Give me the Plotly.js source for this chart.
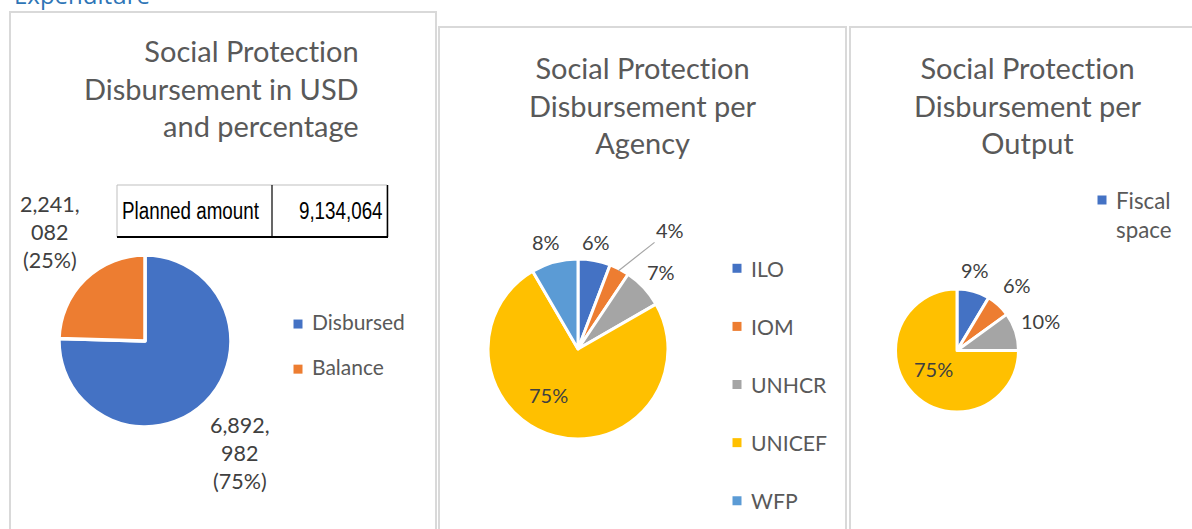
<!DOCTYPE html>
<html><head><meta charset="utf-8">
<script src="https://cdn.plot.ly/plotly-3.0.1.min.js"></script>
<style>
html,body{margin:0;padding:0;background:#fff;overflow:hidden;}
#chart{width:1192px;height:529px;}
svg text{font-variant-ligatures:none !important;font-feature-settings:"liga" 0,"clig" 0 !important;}
.legendpie{ d: path('M10.5,4.5H1.5V-4.5H10.5Z'); stroke-width:0 !important; }
.scrollbar{display:none !important;}
.annotation[data-index="4"] text.annotation-text{transform-box:fill-box;transform-origin:left center;transform:scaleX(0.8);}
.annotation[data-index="5"] text.annotation-text{transform-box:fill-box;transform-origin:right center;transform:scaleX(0.8);}
</style></head><body><div id="chart"></div>
<script>
// ---- data ----
const disbCats = ['Disbursed', 'Balance'];
const disbValues = [6892982, 2241082];
const plannedLabel = 'Planned amount';
const plannedAmount = 9134064;

const agencyCats = ['ILO', 'IOM', 'UNHCR', 'UNICEF', 'WFP'];
const agencyValues = [5.8, 3.6, 7.3, 74.9, 8.4];

const outputCats = ['Fiscal space', 'Output 2', 'Output 3', 'Output 4'];
const outputValues = [8.6, 6.4, 10, 75];

const chartTitles = [
  'Social Protection<br>Disbursement in USD<br>and percentage',
  'Social Protection<br>Disbursement per<br>Agency',
  'Social Protection<br>Disbursement per<br>Output'
];
const headingText = 'Expenditure';

// ---- layout helpers ----
const W = 1192, H = 529;
const px = x => x / W;
const py = y => 1 - y / H;
const FONT = 'Lato, "Open Sans", sans-serif';
const TFONT = '"Liberation Sans", Arial, sans-serif';
const C4 = ['#4472C4', '#ED7D31', '#A5A5A5', '#FFC000', '#5B9BD5'];
const LBL = '#404040';

// pie boxes in pixels [left, top, right, bottom]
const pieBoxes = [[58, 255, 232, 427], [487, 259, 669, 439], [895, 289, 1019, 412]];
const domainOf = b => ({x: [px(b[0]), px(b[2])], y: [py(b[3]), py(b[1])]});
const geomOf = b => ({cx: (b[0] + b[2]) / 2, cy: (b[1] + b[3]) / 2, r: Math.min(b[2] - b[0], b[3] - b[1]) / 2});

// label placement style: radial factor f and angular nudge da (deg) from the slice mid-angle
const place1 = [{f: 1.71, da: 3.9}, {f: 1.68, da: 3.3}];
const place2 = [{f: 1.20, da: -0.9}, {f: 1.67, da: 10.4, leader: true}, {f: 1.26, da: 0.1}, {f: 0.61, da: 17.2}, {f: 1.24, da: -1.4}];
const place3 = [{f: 1.34, da: -3}, {f: 1.45, da: 0}, {f: 1.44, da: -1.4}, {f: 0.49, da: 7.4}];

function midAngles(vals) {
  const tot = vals.reduce((a, b) => a + b, 0);
  let acc = 0;
  return vals.map(v => { const m = (acc + v / 2) / tot * 360; acc += v; return m; });
}
function pcts(vals) {
  const tot = vals.reduce((a, b) => a + b, 0);
  return vals.map(v => Math.round(v / tot * 100) + '%');
}
function polar(g, ang, f) {
  const a = ang * Math.PI / 180;
  return {x: g.cx + f * g.r * Math.sin(a), y: g.cy - f * g.r * Math.cos(a)};
}
function splitNum(v) {
  const s = v.toLocaleString('en-US');
  const i = s.lastIndexOf(',');
  return s.slice(0, i + 1) + '<br>' + s.slice(i + 1);
}

function labelAnns(vals, texts, box, places, size) {
  const g = geomOf(box);
  const mids = midAngles(vals);
  return vals.map((v, i) => {
    const p = places[i];
    const c = polar(g, mids[i] + p.da, p.f);
    const ann = {text: texts[i], xref: 'paper', yref: 'paper', x: px(c.x), y: py(c.y),
      xanchor: 'center', yanchor: 'middle', align: 'center', showarrow: false,
      font: {family: FONT, size: size, color: LBL}};
    if (p.leader) {
      const tip = polar(g, mids[i], 0.98);
      Object.assign(ann, {x: px(tip.x), y: py(tip.y), showarrow: true, arrowhead: 0, arrowwidth: 1.2,
        arrowcolor: '#A6A6A6', ax: c.x - tip.x, ay: c.y - tip.y, standoff: 0});
    }
    return ann;
  });
}

const traces = [
  {
    type: 'pie', sort: false, direction: 'clockwise', rotation: 0, textinfo: 'none',
    labels: disbCats.map(c => '<span style="font-size:21px">' + c + '</span><br>&nbsp;'),
    values: disbValues,
    marker: {colors: C4.slice(0, 2), line: {color: '#ffffff', width: 3.5}},
    domain: domainOf(pieBoxes[0]),
    legend: 'legend', hoverinfo: 'label+value+percent'
  },
  {
    type: 'pie', sort: false, direction: 'clockwise', rotation: 0, textinfo: 'none',
    labels: agencyCats.map(c => c + '<br>&nbsp;'),
    values: agencyValues,
    marker: {colors: C4, line: {color: '#ffffff', width: 3}},
    domain: domainOf(pieBoxes[1]),
    legend: 'legend2'
  },
  {
    type: 'pie', sort: false, direction: 'clockwise', rotation: 0, textinfo: 'none',
    labels: outputCats.map(c => c.replace(' ', '<br>')),
    values: outputValues,
    marker: {colors: C4.slice(0, 4), line: {color: '#ffffff', width: 3}},
    domain: domainOf(pieBoxes[2]),
    legend: 'legend3'
  }
];

const legendBase = {xanchor: 'left', yanchor: 'top', valign: 'top',
  bgcolor: 'rgba(0,0,0,0)', borderwidth: 0, orientation: 'v'};

const shapes = [
  // panel frames
  {type: 'rect', xref: 'paper', yref: 'paper', x0: px(10), x1: px(436), y0: -0.2, y1: py(12),
   line: {color: '#D9D9D9', width: 2}, fillcolor: 'rgba(0,0,0,0)', layer: 'below'},
  {type: 'rect', xref: 'paper', yref: 'paper', x0: px(439), x1: px(846), y0: -0.2, y1: py(27),
   line: {color: '#D9D9D9', width: 2}, fillcolor: 'rgba(0,0,0,0)', layer: 'below'},
  {type: 'rect', xref: 'paper', yref: 'paper', x0: px(850), x1: px(1260), y0: -0.2, y1: py(27),
   line: {color: '#D9D9D9', width: 2}, fillcolor: 'rgba(0,0,0,0)', layer: 'below'},
  // planned amount table
  {type: 'rect', xref: 'paper', yref: 'paper', x0: px(117), x1: px(387), y0: py(237), y1: py(185),
   line: {color: '#BFBFBF', width: 1}, fillcolor: '#ffffff'},
  {type: 'line', xref: 'paper', yref: 'paper', x0: px(117), x1: px(388), y0: py(237), y1: py(237),
   line: {color: '#000000', width: 2}},
  {type: 'line', xref: 'paper', yref: 'paper', x0: px(387.5), x1: px(387.5), y0: py(185), y1: py(237),
   line: {color: '#000000', width: 1.5}},
  {type: 'line', xref: 'paper', yref: 'paper', x0: px(272), x1: px(272), y0: py(185), y1: py(237),
   line: {color: '#000000', width: 1.2}}
];

const annotations = [
  {text: headingText, xref: 'paper', yref: 'paper', x: px(12), y: py(13), xanchor: 'left', yanchor: 'bottom',
   showarrow: false, font: {family: '"Open Sans", sans-serif', size: 24, color: '#2E75B6'}},
  {text: chartTitles[0], xref: 'paper', yref: 'paper', x: px(361), y: py(88), xanchor: 'right', yanchor: 'middle',
   align: 'right', showarrow: false, font: {family: FONT, size: 29, color: '#595959'}},
  {text: chartTitles[1], xref: 'paper', yref: 'paper', x: px(643), y: py(105), xanchor: 'center', yanchor: 'middle',
   align: 'center', showarrow: false, font: {family: FONT, size: 29, color: '#595959'}},
  {text: chartTitles[2], xref: 'paper', yref: 'paper', x: px(1028), y: py(105), xanchor: 'center', yanchor: 'middle',
   align: 'center', showarrow: false, font: {family: FONT, size: 29, color: '#595959'}},
  {text: plannedLabel, xref: 'paper', yref: 'paper', x: px(120), y: py(211), xanchor: 'left', yanchor: 'middle',
   showarrow: false, font: {family: TFONT, size: 23.5, color: '#000000'}},
  {text: plannedAmount.toLocaleString('en-US'), xref: 'paper', yref: 'paper', x: px(385), y: py(211), xanchor: 'right', yanchor: 'middle',
   showarrow: false, font: {family: TFONT, size: 23.5, color: '#000000'}}
].concat(
  labelAnns(disbValues, disbValues.map((v, i) => splitNum(v) + '<br>(' + pcts(disbValues)[i] + ')'), pieBoxes[0], place1, 21.5),
  labelAnns(agencyValues, pcts(agencyValues), pieBoxes[1], place2, 20),
  labelAnns(outputValues, pcts(outputValues), pieBoxes[2], place3, 20)
);

const layout = {
  width: W, height: H,
  margin: {l: 0, r: 0, t: 0, b: 0, autoexpand: false},
  paper_bgcolor: '#ffffff',
  font: {family: FONT, color: '#595959'},
  showlegend: true,
  legend: Object.assign({}, legendBase, {x: px(272), y: py(307), font: {family: FONT, size: 16.2, color: '#595959'}}),
  legend2: Object.assign({}, legendBase, {x: px(711), y: py(248), font: {family: FONT, size: 21.2, color: '#595959'}}),
  legend3: Object.assign({}, legendBase, {x: px(1076), y: py(179), maxheight: 64, font: {family: FONT, size: 22.3, color: '#595959'}}),
  shapes: shapes,
  annotations: annotations
};

Plotly.newPlot('chart', traces, layout, {displayModeBar: false, responsive: false});
</script>
</body></html>
